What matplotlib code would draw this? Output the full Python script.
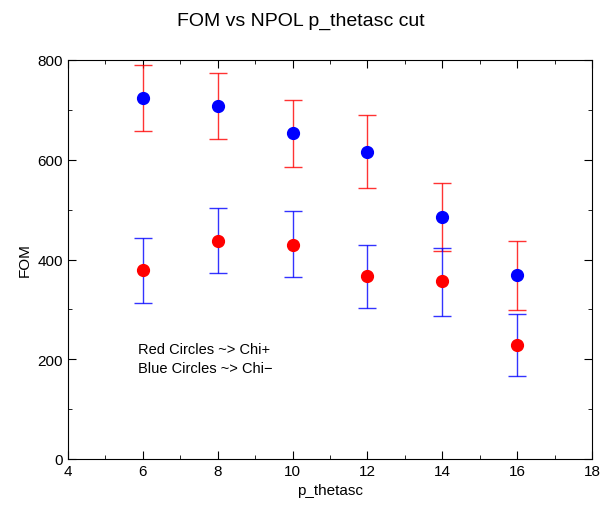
import matplotlib.pyplot as plt
import numpy as np

plt.rcParams['font.family'] = ['Liberation Sans', 'DejaVu Sans']

# p_thetasc cut values
cuts = [6, 8, 10, 12, 14, 16]

# blue circles (Chi-) with red error bars
fom_blue = [724, 708, 654, 616, 485, 368]
blue_lo = [658, 642, 585, 543, 417, 298]
blue_hi = [790, 774, 720, 690, 553, 437]

# red circles (Chi+) with blue error bars
fom_red = [379, 438, 430, 366, 356, 229]
red_lo = [312, 373, 364, 302, 287, 166]
red_hi = [444, 504, 497, 430, 424, 291]

fig = plt.figure(figsize=(6.01, 5.06), dpi=100)
ax = fig.add_axes([68/601, 1-460/506, (592-68)/601, (460-61)/506])

def draw(y, lo, hi, mcol, ecol):
    y = np.array(y)
    err = [y - np.array(lo), np.array(hi) - y]
    ax.errorbar(cuts, y, yerr=err, fmt='none', ecolor=ecol, elinewidth=1,
                capsize=6.5, capthick=1, alpha=0.8)
    ax.plot(cuts, y, 'o', color=mcol, markersize=8.5, zorder=3)

draw(fom_blue, blue_lo, blue_hi, 'blue', 'red')
draw(fom_red, red_lo, red_hi, 'red', 'blue')

ax.set_xlim(4, 18)
ax.set_ylim(0, 800)
ax.set_xticks(range(4, 19, 2))
ax.set_xticks(range(4, 19), minor=True)
ax.set_yticks(range(0, 801, 200))
ax.set_yticks(range(0, 801, 100), minor=True)
ax.tick_params(which='both', direction='in', top=True, right=True, labelsize=11)
ax.tick_params(which='major', length=6)
ax.tick_params(which='minor', length=3)

ax.text(5.87, 220, 'Red Circles ~> Chi+', fontsize=10.5, va='center')
ax.text(5.87, 183, 'Blue Circles ~> Chi\u2212', fontsize=10.5, va='center')

ax.set_xlabel('p_thetasc', fontsize=11)
ax.set_ylabel('FOM', fontsize=11)
fig.suptitle('FOM vs NPOL p_thetasc cut', fontsize=14, y=0.975)

fig.savefig('out.png', dpi=100)
